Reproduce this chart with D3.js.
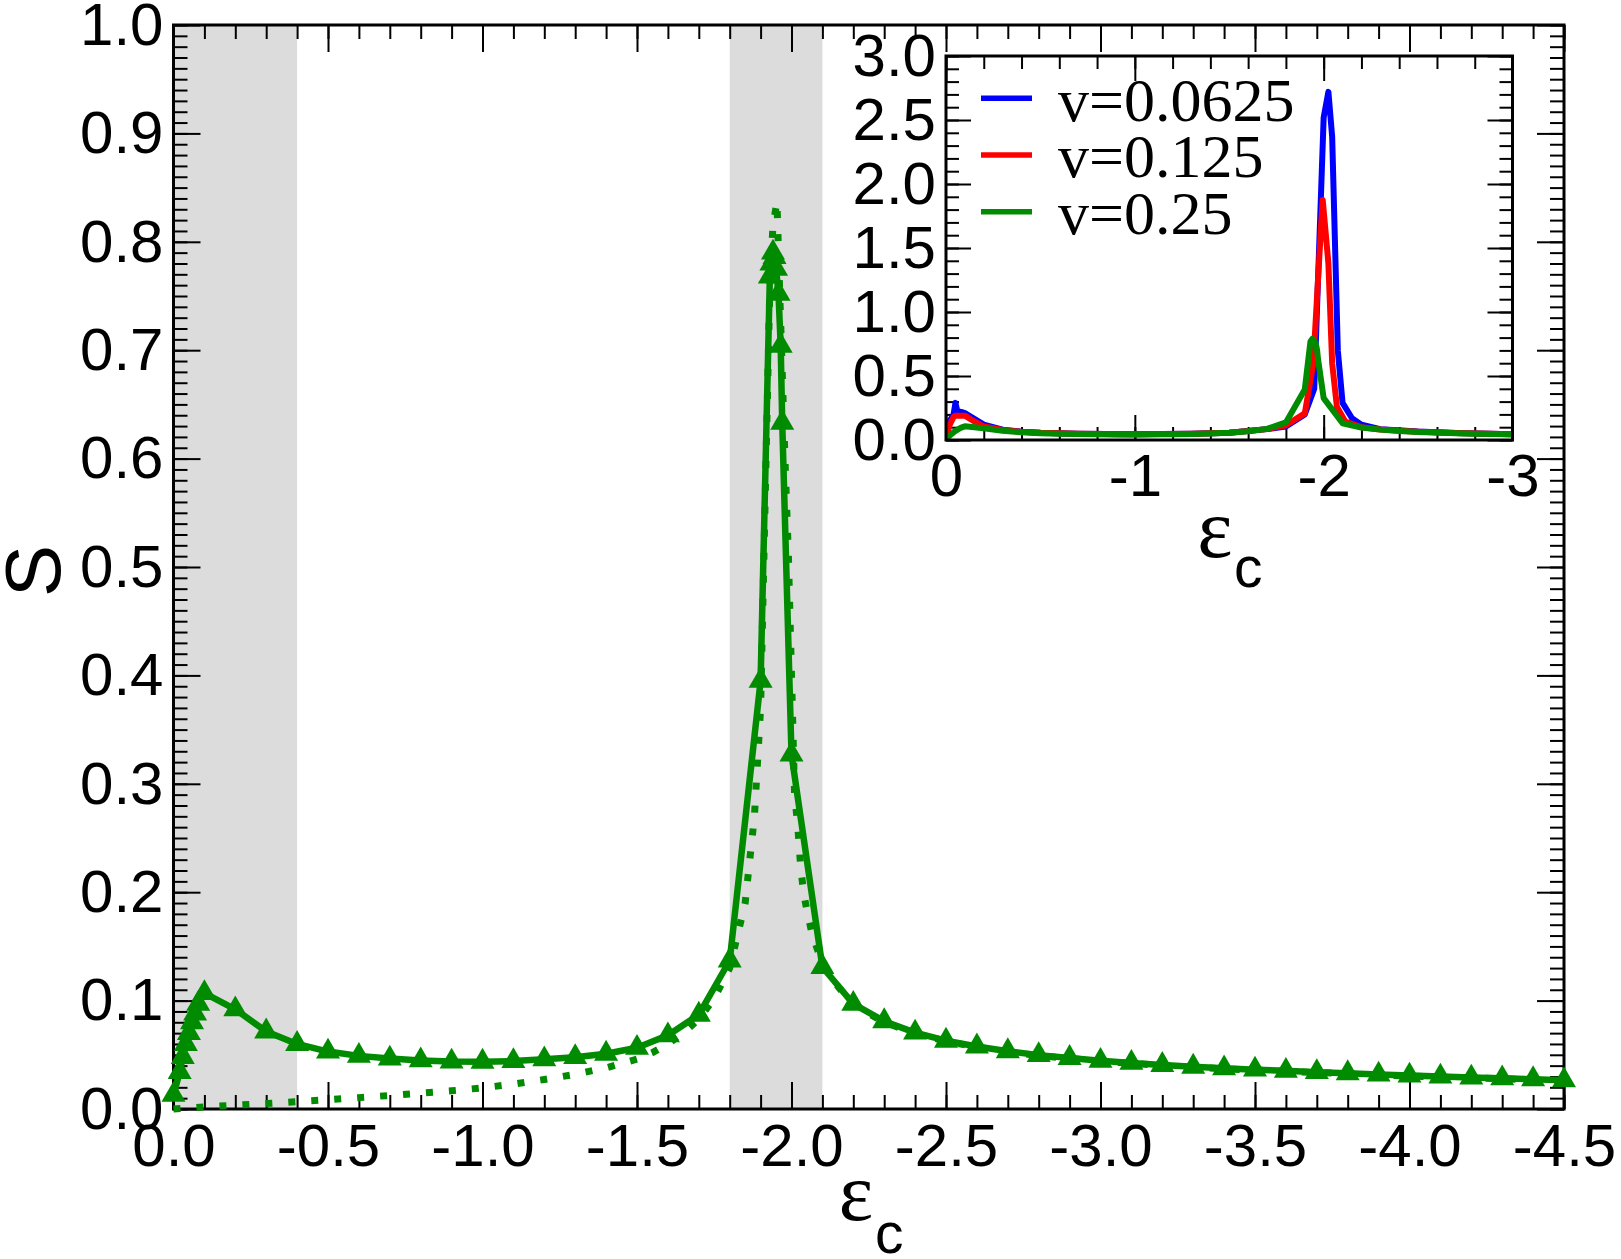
<!DOCTYPE html>
<html><head><meta charset="utf-8">
<script src="https://cdn.jsdelivr.net/npm/d3@7"></script>
<style>body{margin:0;background:#fff} svg{display:block}</style>
</head><body>
<svg id="chart" width="1621" height="1259"></svg>
<script>
// ---------- data ----------
const epsMain = [0, -0.02, -0.03, -0.04, -0.05, -0.06, -0.07, -0.08, -0.1,
  -0.2, -0.3, -0.4, -0.5, -0.6, -0.7, -0.8, -0.9, -1.0, -1.1, -1.2, -1.3, -1.4, -1.5, -1.6, -1.7, -1.8,
  -1.9, -1.93, -1.935, -1.94, -1.945, -1.95, -1.958, -1.965, -1.97, -2.0, -2.1,
  -2.2, -2.3, -2.4, -2.5, -2.6, -2.7, -2.8, -2.9, -3.0, -3.1, -3.2, -3.3, -3.4, -3.5,
  -3.6, -3.7, -3.8, -3.9, -4.0, -4.1, -4.2, -4.3, -4.4, -4.5];
const sMain = [0.013, 0.034, 0.048, 0.060, 0.070, 0.080, 0.088, 0.097, 0.107,
  0.092, 0.0715, 0.060, 0.053, 0.049, 0.0465, 0.0448, 0.0438, 0.0436, 0.0442, 0.0458, 0.0478, 0.051, 0.0565, 0.068, 0.087, 0.137,
  0.395, 0.768, 0.780, 0.790, 0.786, 0.775, 0.752, 0.704, 0.633, 0.327, 0.131,
  0.097, 0.081, 0.0705, 0.063, 0.0577, 0.0533, 0.0497, 0.0471, 0.0445, 0.0425, 0.0406, 0.039, 0.0375, 0.0363,
  0.0352, 0.034, 0.033, 0.0318, 0.0308, 0.0299, 0.029, 0.0283, 0.0275, 0.0265];

const epsTheory = [0, -0.1, -0.2, -0.3, -0.4, -0.5, -0.6, -0.7, -0.8, -0.9, -1.0, -1.1, -1.2, -1.3, -1.4,
  -1.5, -1.55, -1.6, -1.65, -1.7, -1.75, -1.8, -1.85, -1.88, -1.9, -1.93, -1.94, -1.953, -1.96, -1.97,
  -1.98, -1.99, -2.0, -2.01, -2.02, -2.03, -2.04, -2.05, -2.067, -2.1, -2.15, -2.2, -2.3, -2.4, -2.5,
  -2.6, -2.7, -2.8, -2.9, -3.0, -3.2, -3.4, -3.6, -3.8, -4.0, -4.2, -4.4, -4.5];
const sTheory = [0, 0.002, 0.0035, 0.005, 0.0068, 0.0085, 0.0105, 0.0125, 0.0147, 0.0168, 0.0195, 0.023, 0.0272, 0.032, 0.038,
  0.046, 0.052, 0.060, 0.070, 0.083, 0.102, 0.130, 0.19, 0.27, 0.37, 0.76, 0.815, 0.837, 0.77, 0.68,
  0.59, 0.51, 0.40, 0.29, 0.262, 0.222, 0.198, 0.183, 0.161, 0.134, 0.113, 0.096, 0.080, 0.0698, 0.0624,
  0.0572, 0.0528, 0.0492, 0.0466, 0.0441, 0.0402, 0.0371, 0.0348, 0.0326, 0.0304, 0.0287, 0.0271, 0.0262];

// inset series
const epsV0625 = [0, -0.02, -0.04, -0.05, -0.06, -0.08, -0.1, -0.15, -0.2, -0.3, -0.4, -0.5, -0.7, -1.0, -1.3,
  -1.5, -1.7, -1.8, -1.9, -1.95, -2.0, -2.025, -2.045, -2.075, -2.1, -2.15, -2.2, -2.3, -2.5, -2.7, -3.0];
const sV0625 = [0.02, 0.15, 0.20, 0.29, 0.225, 0.22, 0.21, 0.165, 0.12, 0.08, 0.065, 0.057, 0.048, 0.044, 0.048,
  0.056, 0.085, 0.105, 0.20, 0.40, 2.52, 2.72, 2.37, 0.70, 0.29, 0.17, 0.12, 0.085, 0.066, 0.055, 0.045];
const epsV125 = [0, -0.02, -0.04, -0.05, -0.1, -0.15, -0.2, -0.3, -0.4, -0.5, -0.7, -1.0, -1.3, -1.5, -1.7,
  -1.8, -1.9, -1.945, -1.985, -1.995, -2.025, -2.045, -2.07, -2.115, -2.2, -2.3, -2.5, -2.7, -3.0];
const sV125 = [0.02, 0.12, 0.18, 0.19, 0.19, 0.145, 0.105, 0.078, 0.064, 0.056, 0.048, 0.044, 0.048, 0.056, 0.085,
  0.115, 0.208, 0.60, 1.64, 1.875, 1.38, 0.60, 0.26, 0.143, 0.10, 0.082, 0.065, 0.054, 0.045];
const epsV25 = epsMain;   // same run as the main panel
const sV25 = sMain;

const shadedBands = [[0, -0.4], [-1.8, -2.1]];
const xTicksMain = [0, -0.5, -1.0, -1.5, -2.0, -2.5, -3.0, -3.5, -4.0, -4.5];
const yTicksMain = [0, 0.1, 0.2, 0.3, 0.4, 0.5, 0.6, 0.7, 0.8, 0.9, 1.0];
const xTicksInset = [0, -1, -2, -3];
const yTicksInset = [0, 0.5, 1.0, 1.5, 2.0, 2.5, 3.0];
const legendLabels = ["v=0.0625", "v=0.125", "v=0.25"];
const legendColors = ["#0000ff", "#ff0000", "#008b00"];

// ---------- drawing ----------
const GREEN = "#008b00";
const SANS = "'Liberation Sans', Arial, Helvetica, sans-serif";
const SERIF = "'Liberation Serif', 'Times New Roman', serif";
const svg = d3.select("#chart");

const M = {left: 173.5, right: 1564, top: 25, bottom: 1109};
const x = d3.scaleLinear().domain([0, -4.5]).range([M.left, M.right]);
const y = d3.scaleLinear().domain([0, 1]).range([M.bottom, M.top]);

function addAxis(parent, make, scale, values, size, tr, fmt, pad, fs) {
  const a = make(scale).tickValues(values).tickSizeInner(size).tickSizeOuter(0)
    .tickPadding(pad || 0).tickFormat(fmt || (() => ""));
  const g = parent.append("g").attr("transform", tr).call(a);
  g.attr("font-size", null).attr("font-family", null);
  g.select(".domain").remove();
  g.selectAll(".tick line").attr("stroke", "#000").attr("stroke-width", 2);
  g.selectAll(".tick text").attr("font-family", SANS).attr("font-size", fs || 60).attr("fill", "#000");
  return g;
}

// shaded bands
svg.append("g").selectAll("rect").data(shadedBands).join("rect")
  .attr("x", d => x(d[0])).attr("width", d => x(d[1]) - x(d[0]))
  .attr("y", M.top).attr("height", M.bottom - M.top).attr("fill", "#dcdcdc");

// main axes
const xMinor = d3.range(0, 46).map(i => -i / 10);
const yMinor = d3.range(0, 101).map(i => i / 100);
const fmt1 = d => (+d).toFixed(1);
addAxis(svg, d3.axisBottom, x, xMinor, -14, `translate(0,${M.bottom})`);
addAxis(svg, d3.axisBottom, x, xTicksMain, -27, `translate(0,${M.bottom})`, fmt1, 14);
addAxis(svg, d3.axisTop, x, xMinor, -14, `translate(0,${M.top})`);
addAxis(svg, d3.axisTop, x, xTicksMain, -27, `translate(0,${M.top})`);
addAxis(svg, d3.axisLeft, y, yMinor, -14, `translate(${M.left},0)`);
addAxis(svg, d3.axisLeft, y, yTicksMain, -27, `translate(${M.left},0)`, fmt1, 10);
addAxis(svg, d3.axisRight, y, yMinor, -14, `translate(${M.right},0)`);
addAxis(svg, d3.axisRight, y, yTicksMain, -27, `translate(${M.right},0)`);

svg.append("rect").attr("x", M.left).attr("y", M.top)
  .attr("width", M.right - M.left).attr("height", M.bottom - M.top)
  .attr("fill", "none").attr("stroke", "#000").attr("stroke-width", 3);

// main data
const line = d3.line().x(d => x(d[0])).y(d => y(d[1]));
svg.append("path").datum(d3.zip(epsTheory, sTheory)).attr("d", line)
  .attr("fill", "none").attr("stroke", GREEN).attr("stroke-width", 7)
  .attr("stroke-dasharray", "7,16");
const mainPts = d3.zip(epsMain, sMain);
svg.append("path").datum(mainPts).attr("d", line)
  .attr("fill", "none").attr("stroke", GREEN).attr("stroke-width", 6.5)
  .attr("stroke-linejoin", "round");
svg.append("g").selectAll("path").data(mainPts).join("path")
  .attr("d", d3.symbol(d3.symbolTriangle, 250))
  .attr("transform", d => `translate(${x(d[0])},${y(d[1])})`)
  .attr("fill", GREEN);

// axis titles
svg.append("text").attr("transform", "translate(60,571) rotate(-90)")
  .attr("text-anchor", "middle").attr("font-family", SANS).attr("font-size", 78).text("S");
svg.append("text").attr("x", 856).attr("y", 1220).attr("text-anchor", "middle")
  .attr("font-family", SERIF).attr("font-size", 82).text("ε");
svg.append("text").attr("x", 875).attr("y", 1253)
  .attr("font-family", SANS).attr("font-size", 57).text("c");

// ---------- inset ----------
const I = {left: 946, right: 1512.5, top: 56, bottom: 440};
const xi = d3.scaleLinear().domain([0, -3]).range([I.left, I.right]);
const yi = d3.scaleLinear().domain([0, 3]).range([I.bottom, I.top]);
const inset = svg.append("g");
inset.append("rect").attr("x", I.left).attr("y", I.top)
  .attr("width", I.right - I.left).attr("height", I.bottom - I.top).attr("fill", "#fff");
svg.append("clipPath").attr("id", "insetClip").append("rect")
  .attr("x", I.left).attr("y", I.top).attr("width", I.right - I.left).attr("height", I.bottom - I.top);

const xiMinor = d3.range(0, 16).map(i => -i * 0.2);
const yiMinor = d3.range(0, 31).map(i => i / 10);
addAxis(inset, d3.axisBottom, xi, xiMinor, -13, `translate(0,${I.bottom})`);
addAxis(inset, d3.axisBottom, xi, xTicksInset, -25, `translate(0,${I.bottom})`, d => String(d), 13);
addAxis(inset, d3.axisTop, xi, xiMinor, -13, `translate(0,${I.top})`);
addAxis(inset, d3.axisTop, xi, xTicksInset, -25, `translate(0,${I.top})`);
addAxis(inset, d3.axisLeft, yi, yiMinor, -13, `translate(${I.left},0)`);
addAxis(inset, d3.axisLeft, yi, yTicksInset, -25, `translate(${I.left},0)`, fmt1, 10);
addAxis(inset, d3.axisRight, yi, yiMinor, -13, `translate(${I.right},0)`);
addAxis(inset, d3.axisRight, yi, yTicksInset, -25, `translate(${I.right},0)`);

const iline = d3.line().x(d => xi(d[0])).y(d => yi(d[1]));
const insetSeries = [d3.zip(epsV0625, sV0625), d3.zip(epsV125, sV125), d3.zip(epsV25, sV25)];
inset.append("g").attr("clip-path", "url(#insetClip)")
  .selectAll("path").data(insetSeries).join("path")
  .attr("d", iline).attr("fill", "none")
  .attr("stroke", (d, i) => legendColors[i]).attr("stroke-width", 6)
  .attr("stroke-linejoin", "round");

inset.append("rect").attr("x", I.left).attr("y", I.top)
  .attr("width", I.right - I.left).attr("height", I.bottom - I.top)
  .attr("fill", "none").attr("stroke", "#000").attr("stroke-width", 3);

// legend
const lg = inset.append("g").selectAll("g").data(legendLabels).join("g")
  .attr("transform", (d, i) => `translate(0,${i * 56.7})`);
lg.append("line").attr("x1", 981).attr("x2", 1032).attr("y1", 98.3).attr("y2", 98.3)
  .attr("stroke", (d, i) => legendColors[i]).attr("stroke-width", 5.5);
lg.append("text").attr("x", 1058).attr("y", 120.7)
  .attr("font-family", SERIF).attr("font-size", 62).text(d => d);

// inset titles
inset.append("text").attr("x", 1215).attr("y", 557).attr("text-anchor", "middle")
  .attr("font-family", SERIF).attr("font-size", 84).text("ε");
inset.append("text").attr("x", 1234).attr("y", 587)
  .attr("font-family", SANS).attr("font-size", 57).text("c");
</script>
</body></html>
